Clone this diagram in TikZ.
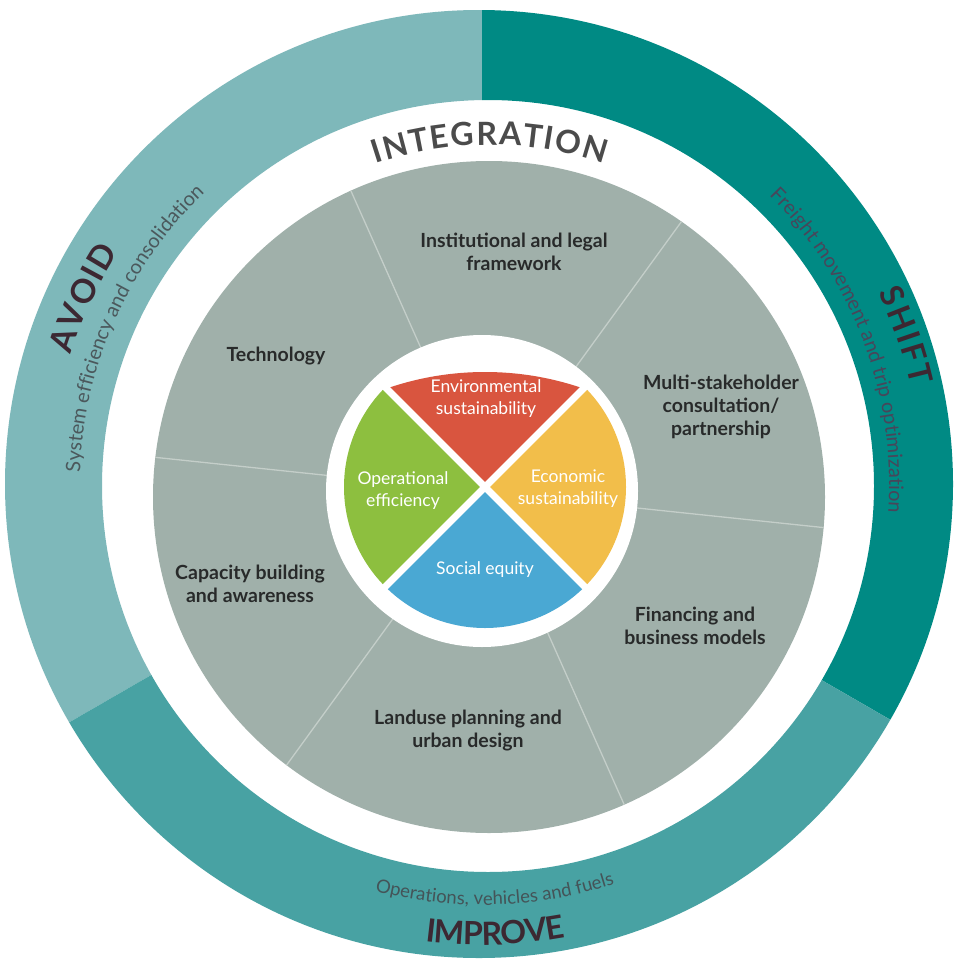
\documentclass[tikz,border=0pt]{standalone}
\usepackage{fontspec}
\setmainfont{Lato}
\usetikzlibrary{decorations.text}
\definecolor{avoidc}{RGB}{126,184,186}
\definecolor{shiftc}{RGB}{0,138,132}
\definecolor{improvec}{RGB}{72,162,163}
\definecolor{graydisc}{RGB}{160,176,170}
\definecolor{divc}{RGB}{196,206,201}
\definecolor{redc}{RGB}{217,85,63}
\definecolor{yellowc}{RGB}{242,190,74}
\definecolor{greenc}{RGB}{141,191,63}
\definecolor{bluec}{RGB}{74,168,211}
\definecolor{labc}{RGB}{40,42,42}
\definecolor{titlec}{RGB}{60,40,50}
\definecolor{integc}{RGB}{75,75,75}
\definecolor{subavoid}{RGB}{75,88,92}
\definecolor{subshift}{RGB}{72,70,90}
\definecolor{subimprove}{RGB}{68,84,88}
\tikzset{
  lab/.style={font=\fontsize{19.5}{23}\selectfont\bfseries, text=labc, align=center},
  cl/.style={font=\fontsize{17.5}{22}\selectfont, text=white, align=center},
  divider/.style={draw=divc, line width=1.3pt},
  gap/.style={draw=white, line width=7pt},
  ringtitle/.style n args={3}{decorate, decoration={text effects along path, text={#1},
    text effects/.cd, text along path, fit text to path,
    characters={text=#2, font=\bfseries\fontsize{#3}{#3}\selectfont}}}
}
\begin{document}
\begin{tikzpicture}[x=1pt,y=1pt]
\useasboundingbox (0,0) rectangle (954,-961);
\fill[white] (0,0) rectangle (954,-961);

% outer ring
\begin{scope}[shift={(482,-484)}]
  \begin{scope}
    \clip (0,0) -- (90:700) -- (150:700) -- (210:700) -- cycle;
    \fill[avoidc, even odd rule] (-3,0) circle[radius=474] (6,-2) circle[radius=386];
  \end{scope}
  \begin{scope}
    \clip (0,0) -- (-30:700) -- (30:700) -- (90:700) -- cycle;
    \fill[shiftc, even odd rule] (-3,0) circle[radius=474] (6,-2) circle[radius=386];
  \end{scope}
  \begin{scope}
    \clip (0,0) -- (210:700) -- (270:700) -- (330:700) -- cycle;
    \fill[improvec, even odd rule] (-3,0) circle[radius=474] (6,-2) circle[radius=386];
  \end{scope}
  % ring texts
  \path[ringtitle={AVOID}{titlec}{33}]
    (162.5:431) arc[start angle=162.5, end angle=147.5, radius=431];
  \path[decorate, decoration={text along path, text align=center, text color=subavoid,
    text={|\fontsize{20}{20}\selectfont|System efficiency and consolidation}}]
    (201:402) arc[start angle=201, end angle=111, radius=402];
  \path[ringtitle={SHIFT}{titlec}{32}]
    (25.8:440) arc[start angle=25.8, end angle=12.8, radius=440];
  \path[decorate, decoration={text along path, text align=center, text color=subshift,
    text={|\fontsize{20}{20}\selectfont|Freight movement and trip optimization}}]
    (65.6:407) arc[start angle=65.6, end angle=-24.4, radius=407];
  \path[ringtitle={IMPROVE}{titlec}{32}]
    (262.9:461) arc[start angle=262.9, end angle=280.5, radius=461];
  \path[decorate, decoration={text along path, text align=center, text color=subimprove,
    text={|\fontsize{18.5}{18.5}\selectfont|Operations, vehicles and fuels}}]
    (231.8:421) arc[start angle=231.8, end angle=311.8, radius=421];
\end{scope}

% INTEGRATION
\begin{scope}[shift={(490,-505)}]
  \path[ringtitle={INTEGRATION}{integc}{32}]
    (108.5:360) arc[start angle=108.5, end angle=71.5, radius=360];
\end{scope}

% grey disc with sectors
\fill[graydisc] (489,-497) circle[radius=336];
\begin{scope}
  \clip (489,-497) circle[radius=336];
  \foreach \a in {54,114,174,234,294,354}
    \draw[divider] (485,-492) -- ++(\a:400);
\end{scope}
\fill[white] (482,-491) circle[radius=156];

% coloured quadrants
\begin{scope}
  \clip (485,-487) circle[radius=141];
  \clip (485,-672) circle[radius=300];
  \fill[redc] (485,-487) -- (697.1,-274.9) -- (272.9,-274.9) -- cycle;
  \fill[yellowc] (485,-487) -- (697.1,-274.9) -- (697.1,-699.1) -- cycle;
  \fill[bluec] (485,-487) -- (697.1,-699.1) -- (272.9,-699.1) -- cycle;
  \fill[greenc] (485,-487) -- (272.9,-699.1) -- (272.9,-274.9) -- cycle;
\end{scope}
\draw[gap] (591.07,-380.93) -- (378.93,-593.07);
\draw[gap] (378.93,-380.93) -- (591.07,-593.07);

% sector labels
\node[lab] (inst) at (514,-252) {Institutional and legal\\framework};
\node[lab] (tech) at (276,-356) {Technology};
\node[lab] (multi) at (721,-407) {Multi-stakeholder\\consultation/\\partnership};
\node[lab] (cap) at (250,-584) {Capacity building\\and awareness};
\node[lab] (fin) at (695,-626) {Financing and\\business models};
\node[lab] (land) at (468,-731) {Landuse planning and\\urban design};

% centre labels
\node[cl] (env) at (486,-399) {Environmental\\sustainability};
\node[cl] (op) at (403,-491) {Operational\\efficiency};
\node[cl] (eco) at (568,-489) {Economic\\sustainability};
\node[cl] (soc) at (485,-570) {Social equity};
\end{tikzpicture}
\end{document}
